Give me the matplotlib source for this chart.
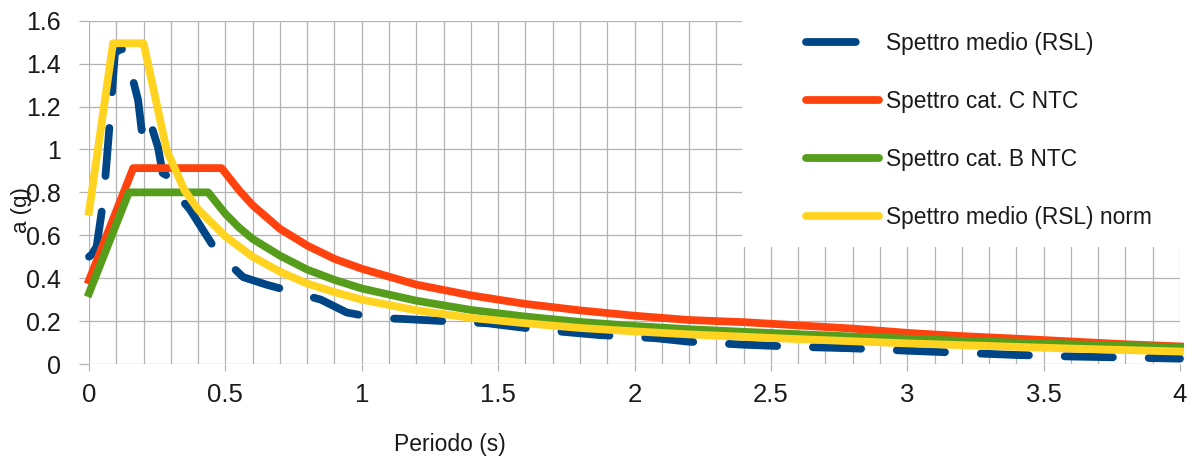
import matplotlib
matplotlib.use("Agg")
import matplotlib.pyplot as plt
from matplotlib.lines import Line2D
from matplotlib.patches import Rectangle

plt.rcParams['font.family'] = ['Liberation Sans', 'DejaVu Sans']

# Mean site-response spectrum (RSL)
t_rsl = [0, 0.01, 0.028, 0.05, 0.06, 0.077, 0.095, 0.12, 0.15, 0.18, 0.193, 0.214,
         0.253, 0.27, 0.31, 0.33, 0.37, 0.425, 0.47, 0.565, 0.65, 0.75, 0.85, 0.945,
         1.05, 1.15, 1.3, 1.46, 1.65, 1.87, 2.08, 2.2, 2.4, 2.6, 2.8, 3.0, 3.2, 3.4,
         3.6, 3.8, 4.0]
a_rsl = [0.50, 0.51, 0.547, 0.74, 0.87, 1.14, 1.45, 1.47, 1.38, 1.23, 1.09, 1.17,
         1.01, 0.89, 0.86, 0.78, 0.72, 0.61, 0.52, 0.405, 0.37, 0.335, 0.30, 0.24,
         0.215, 0.21, 0.20, 0.19, 0.16, 0.135, 0.12, 0.104, 0.09, 0.08, 0.073, 0.062,
         0.052, 0.042, 0.035, 0.03, 0.025]

# NTC spectrum, soil category C
t_cat_c = [0, 0.162, 0.486, 0.55, 0.6, 0.7, 0.8, 0.9, 1.0, 1.2, 1.4, 1.6, 1.8, 2.0,
           2.2, 2.4, 2.6, 2.8, 3.0, 3.2, 3.4, 3.6, 3.8, 4.0]
a_cat_c = [0.39, 0.913, 0.913, 0.81, 0.74, 0.630, 0.552, 0.490, 0.444, 0.37, 0.32,
           0.28, 0.25, 0.225, 0.205, 0.195, 0.18, 0.165, 0.145, 0.13, 0.118, 0.105,
           0.092, 0.082]

# NTC spectrum, soil category B
t_cat_b = [0, 0.146, 0.437, 0.5, 0.55, 0.6, 0.7, 0.8, 0.9, 1.0, 1.2, 1.4, 1.6, 1.8,
           2.0, 2.2, 2.4, 2.6, 2.8, 3.0, 3.2, 3.4, 3.6, 3.8, 4.0]
a_cat_b = [0.33, 0.80, 0.80, 0.70, 0.636, 0.583, 0.505, 0.440, 0.392, 0.352, 0.295,
           0.252, 0.221, 0.196, 0.177, 0.162, 0.15, 0.139, 0.128, 0.118, 0.108,
           0.10, 0.092, 0.085, 0.078]

# Normalised mean RSL spectrum
t_norm = [0, 0.088, 0.2, 0.285, 0.35, 0.4, 0.5, 0.6, 0.7, 0.8, 0.9, 1.0, 1.2, 1.4,
          1.6, 1.8, 2.0, 2.2, 2.4, 2.6, 2.8, 3.0, 3.2, 3.4, 3.6, 3.8, 4.0]
a_norm = [0.71, 1.495, 1.495, 0.995, 0.81, 0.72, 0.595, 0.50, 0.43, 0.375, 0.335,
          0.30, 0.25, 0.215, 0.19, 0.168, 0.152, 0.138, 0.127, 0.116, 0.106, 0.096,
          0.088, 0.08, 0.072, 0.065, 0.058]

labels = ["Spettro medio (RSL)", "Spettro cat. C NTC", "Spettro cat. B NTC",
          "Spettro medio (RSL) norm"]
colors = ["#004586", "#ff420e", "#579d1c", "#ffd320"]

x_ticks = [0, 0.5, 1, 1.5, 2, 2.5, 3, 3.5, 4]
x_tick_labels = ["0", "0.5", "1", "1.5", "2", "2.5", "3", "3.5", "4"]
y_ticks = [0, 0.2, 0.4, 0.6, 0.8, 1.0, 1.2, 1.4, 1.6]
y_tick_labels = ["0", "0.2", "0.4", "0.6", "0.8", "1", "1.2", "1.4", "1.6"]

W, H = 1196, 457
fig = plt.figure(figsize=(W / 100, H / 100), dpi=100)
ax = fig.add_axes([89 / W, 1 - 364 / H, (1180 - 89) / W, (364 - 20.7) / H])

lw = 5.6
grid_col = "#b3b3b3"

ax.plot(t_rsl, a_rsl, color=colors[0], lw=lw, dashes=(6.2, 4.6),
        dash_capstyle="round", solid_joinstyle="round", zorder=3, clip_on=False)
ax.plot(t_cat_c, a_cat_c, color=colors[1], lw=lw, solid_joinstyle="round",
        zorder=4, clip_on=False)
ax.plot(t_cat_b, a_cat_b, color=colors[2], lw=lw, solid_joinstyle="round",
        zorder=5, clip_on=False)
ax.plot(t_norm, a_norm, color=colors[3], lw=lw, solid_joinstyle="round",
        zorder=6, clip_on=False)

ax.set_xlim(0, 4)
ax.set_ylim(0, 1.6)
ax.set_xticks(x_ticks)
ax.set_xticklabels(x_tick_labels)
ax.set_xticks([i / 10 for i in range(41)], minor=True)
ax.set_yticks(y_ticks)
ax.set_yticklabels(y_tick_labels)

ax.set_axisbelow(True)
ax.grid(True, which="both", axis="x", color=grid_col, lw=0.9)
ax.grid(True, which="major", axis="y", color=grid_col, lw=0.9)
for s in ax.spines.values():
    s.set_visible(False)

ax.tick_params(axis="x", which="major", length=5, width=0.9, color=grid_col,
               labelsize=18.5, pad=9, labelcolor="#1a1a1a")
ax.tick_params(axis="x", which="minor", length=0)
ax.tick_params(axis="y", which="major", length=7, width=0.9, color=grid_col,
               labelsize=18, pad=13, labelcolor="#1a1a1a")

# white panel behind the legend
ax.add_patch(Rectangle((2.394, 0.545), 1.8, 1.3, facecolor="white",
                       edgecolor="none", zorder=1, clip_on=False))

handles = [Line2D([], [], color=colors[0], lw=lw, dashes=(6.4, 4.6),
                  dash_capstyle="round")]
handles += [Line2D([], [], color=c, lw=lw, solid_capstyle="round") for c in colors[1:]]
leg = fig.legend(handles, labels, loc="upper left",
                 bbox_to_anchor=(806 / W, 1 - 32 / H), frameon=False,
                 fontsize=16.4, handlelength=3.2, handletextpad=0.3,
                 labelspacing=1.53, borderpad=0, borderaxespad=0)
for txt in leg.get_texts():
    txt.set_color("#1a1a1a")

fig.text(22 / W, 1 - 210 / H, "a (g)", rotation=90, fontsize=16,
         ha="center", va="center", color="#1a1a1a")
fig.text(450 / W, 1 - 444 / H, "Periodo (s)", fontsize=16.5,
         ha="center", va="center", color="#1a1a1a")

fig.savefig("out.png", dpi=100, facecolor="white")
